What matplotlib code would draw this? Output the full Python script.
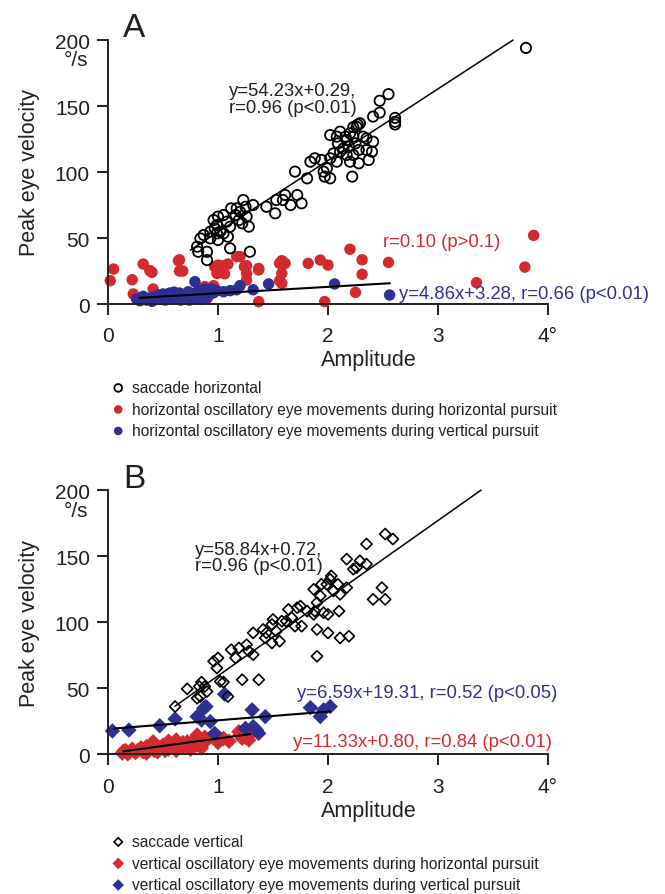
import matplotlib
matplotlib.use("Agg")
import matplotlib.pyplot as plt

plt.rcParams['font.family'] = ['Liberation Sans', 'DejaVu Sans']

RED = '#d42a2f'
BLUE = '#2e3192'

# ---------------- panel A data ----------------
sacc_h_x = [0.81, 0.82, 0.90, 0.90, 0.84, 0.87, 0.93, 0.97, 0.96, 1.00, 1.05, 1.08, 1.11, 1.09,
            1.12, 1.17, 1.16, 1.20, 1.23, 1.25, 1.26, 1.28, 1.29, 1.32, 1.11, 1.00, 1.02, 1.05,
            1.19, 1.22, 0.99, 0.93, 0.99,
            1.44, 1.52, 1.53, 1.59, 1.66, 1.61, 1.72, 1.76, 1.70, 1.81, 1.84, 1.88, 1.94, 1.96,
            1.97, 1.99, 2.02, 2.02, 2.05, 2.08, 2.09, 2.11, 2.14, 2.16, 2.17, 2.19, 2.20, 2.22,
            2.23, 2.25, 2.26, 2.29, 2.28, 2.28, 2.32, 2.35, 2.37, 2.40, 2.41, 2.35, 2.08, 2.02,
            2.17, 2.23, 2.11, 2.20,
            2.55, 2.47, 2.41, 2.47, 2.61, 2.61, 2.61, 3.80, 2.27, 2.23]
sacc_h_y = [43.4, 39.6, 39.6, 33.3, 49.7, 52.3, 54.8, 57.3, 63.6, 66.2, 67.4, 62.4, 58.6, 51.0,
            72.5, 72.5, 67.4, 69.9, 78.8, 73.7, 66.2, 58.6, 39.6, 75.0, 42.2, 48.5, 54.8, 53.5,
            63.6, 61.1, 59.8, 49.7, 53.5,
            73.7, 68.7, 78.8, 78.8, 75.0, 82.6, 82.6, 76.3, 100.3, 95.2, 107.8, 110.4, 109.1, 100.3,
            96.5, 102.8, 110.4, 128.0, 114.1, 126.8, 121.7, 115.4, 117.9, 126.8, 124.2, 119.2, 107.8, 96.5,
            126.8, 121.7, 134.3, 136.9, 116.7, 106.6, 126.8, 116.7, 109.1, 115.4, 123.0, 125.5, 107.8, 95.2,
            112.9, 112.9, 130.6, 129.3,
            159.0, 154.0, 142.0, 145.0, 141.0, 138.0, 136.0, 194.0, 136.0, 134.0]

osc_hh_x = [0.02, 0.05, 0.22, 0.23, 0.32, 0.40, 0.41, 0.65, 0.65, 0.68, 0.88, 0.90, 0.97, 1.00,
            0.99, 1.17, 1.20, 1.24, 1.26, 1.26, 1.37, 1.37, 1.56, 1.58, 1.58, 1.61, 1.82, 1.93,
            2.00, 1.97, 2.20, 2.31, 2.31, 2.25, 2.55, 3.35, 3.79, 3.87,
            1.03, 1.09, 1.06, 1.26, 1.37, 1.58, 1.56, 0.96, 0.38, 0.64]
osc_hh_y = [17.7, 26.5, 18.4, 7.6, 30.3, 24.0, 11.4, 33.5, 25.0, 25.0, 13.1, 4.3, 28.3, 29.5,
            23.2, 35.9, 35.9, 28.3, 23.2, 18.2, 25.8, 1.8, 30.8, 23.2, 15.7, 30.8, 30.8, 33.3,
            29.5, 1.8, 41.5, 33.5, 22.5, 8.8, 31.5, 16.2, 28.0, 52.0,
            29.0, 30.3, 22.9, 29.0, 27.0, 32.8, 17.7, 13.9, 25.3, 32.8]

osc_hv_x = [0.26, 0.29, 0.32, 0.37, 0.41, 0.46, 0.50, 0.53, 0.56, 0.61, 0.65, 0.68, 0.73, 0.78,
            0.79, 0.82, 0.85, 0.88, 0.90, 0.94, 0.99, 1.05, 1.11, 1.17, 1.20, 1.32, 1.46,
            0.30, 0.35, 0.40, 0.44, 0.48, 0.52, 0.55, 0.58, 0.62, 0.66, 0.70, 0.74, 0.76, 0.80,
            0.84, 0.87, 0.92, 0.96, 0.70, 0.60, 2.06, 2.56]
osc_hv_y = [3.8, 2.5, 5.8, 4.3, 5.1, 6.8, 7.6, 5.8, 8.3, 6.8, 8.3, 5.8, 9.3, 7.6,
            16.9, 10.1, 6.8, 11.4, 5.1, 11.4, 10.1, 9.3, 10.1, 10.8, 13.9, 10.8, 15.2,
            4.5, 3.0, 2.0, 3.5, 4.0, 3.0, 4.5, 3.5, 4.0, 3.0, 4.5, 3.0, 5.0, 4.0,
            3.5, 8.0, 7.0, 8.5, 7.0, 9.0, 15.2, 6.8]

# ---------------- panel B data ----------------
sacc_v_x = [0.61, 0.72, 0.81, 0.83, 0.85, 0.90, 0.88, 0.84, 0.96, 1.00, 0.99, 1.02, 1.05, 1.09,
            1.12, 1.16, 1.19, 1.22, 1.26, 1.28, 1.32, 1.32, 1.37, 1.41, 1.43, 1.44, 1.49, 1.49,
            1.50, 1.53, 1.56, 1.58, 1.62, 1.64, 1.67, 1.70, 1.72, 1.75, 1.76, 1.81, 1.87, 1.87,
            1.88, 1.90, 1.90, 1.90, 1.93, 1.96, 1.99, 2.00, 2.00, 2.02, 2.03, 2.05, 2.09, 2.10,
            2.11, 2.11, 2.17, 2.19, 2.23, 2.26, 2.29, 2.35, 2.35, 2.41, 2.49, 2.52, 2.52, 2.59,
            1.94, 2.17]
sacc_v_y = [36.3, 49.7, 42.6, 51.5, 54.8, 47.7, 51.5, 43.9, 70.6, 73.1, 65.5, 55.3, 54.8, 43.9,
            79.4, 73.1, 80.7, 56.6, 83.2, 78.2, 92.1, 75.6, 56.6, 94.7, 88.3, 92.1, 98.5, 84.5,
            102.3, 93.4, 85.8, 101.0, 101.0, 109.9, 103.6, 97.2, 111.2, 112.4, 97.2, 108.6, 125.1, 106.1,
            108.6, 94.7, 115.0, 74.4, 120.1, 107.4, 128.9, 106.1, 92.1, 132.7, 135.3, 123.9, 128.9, 108.6,
            88.3, 121.3, 148.0, 89.6, 140.4, 141.6, 146.7, 144.2, 159.4, 117.5, 126.4, 117.5, 167.0, 163.2,
            128.9, 126.4]

osc_vh_x = [0.13, 0.16, 0.18, 0.20, 0.22, 0.25, 0.27, 0.30, 0.32, 0.35, 0.37, 0.40, 0.42, 0.45,
            0.47, 0.50, 0.52, 0.55, 0.57, 0.60, 0.62, 0.65, 0.68, 0.70, 0.72, 0.75, 0.77, 0.80,
            0.82, 0.85, 0.88, 0.90, 1.00, 1.05, 1.10, 1.20, 1.25, 1.28, 1.30, 0.55, 0.35, 0.62,
            1.05, 1.19, 1.22, 1.26, 0.81, 0.72, 0.84, 0.41, 0.14]
osc_vh_y = [1.0, 3.0, 0.5, 2.0, 4.0, 1.5, 3.0, 5.0, 2.0, 1.0, 4.0, 6.0, 3.0, 2.0,
            5.0, 7.0, 3.0, 4.0, 8.0, 6.0, 3.0, 7.0, 9.0, 5.0, 8.0, 4.0, 10.0, 7.0,
            12.0, 5.0, 13.0, 11.0, 9.0, 12.0, 10.0, 15.0, 13.0, 11.0, 16.0, 10.0, 6.0, 11.0,
            12.2, 17.3, 12.2, 14.7, 14.7, 9.6, 7.1, 9.6, 2.5]

osc_vv_x = [0.04, 0.19, 0.47, 0.61, 0.81, 0.87, 0.89, 0.85, 0.93, 0.97, 1.06, 1.25, 1.31, 1.32,
            1.37, 1.43, 1.84, 1.93, 1.96, 2.02, 1.35]
osc_vv_y = [17.8, 18.5, 21.8, 26.9, 28.7, 35.0, 36.3, 26.1, 24.9, 16.0, 45.7, 19.8, 33.8, 21.1,
            16.0, 28.7, 35.5, 28.7, 33.8, 36.3, 18.5]

# regression lines: (slope, intercept, x start, x end)
fit_sacc_h = (54.23, 0.29, 0.75, 3.68)
fit_hv = (4.86, 3.28, 0.29, 2.56)
fit_sacc_v = (58.84, 0.72, 0.61, 3.39)
fit_vv = (6.59, 19.31, 0.06, 2.02)
fit_vh = (11.33, 0.80, 0.14, 1.29)

xticks = [0, 1, 2, 3, 4]
xticklabels = ['0', '1', '2', '3', '4°']
yticks = [0, 50, 100, 150, 200]

fig = plt.figure(figsize=(6.65, 8.95), dpi=100)
axA = fig.add_axes([0.1376, 0.6474, 0.8353, 0.31415])
axB = fig.add_axes([0.1376, 0.1441, 0.8353, 0.31415])


def style_axes(ax):
    ax.set_xlim(-0.15, 4.9)
    ax.set_ylim(-8, 205)
    for s in ['top', 'right']:
        ax.spines[s].set_visible(False)
    ax.spines['left'].set_bounds(0, 200)
    ax.spines['bottom'].set_bounds(0, 4)
    ax.spines['left'].set_position(('data', 0))
    ax.spines['bottom'].set_position(('data', 0))
    for s in ['left', 'bottom']:
        ax.spines[s].set_linewidth(1.4)
        ax.spines[s].set_color('#231f20')
    ax.set_xticks(xticks)
    ax.set_xticklabels(xticklabels)
    ax.set_yticks(yticks)
    ax.tick_params(direction='out', length=8, width=1.4, labelsize=15, pad=5,
                   color='#231f20', labelcolor='#231f20')
    ax.tick_params(axis='x', pad=8)
    ax.set_xlabel('Amplitude', fontsize=15.5, color='#231f20', labelpad=3)
    ax.set_ylabel('Peak eye velocity', fontsize=15.5, color='#231f20')
    ax.yaxis.set_label_coords(-0.093, 100, transform=ax.get_yaxis_transform())
    ax.annotate('°/s', xy=(0, 185), xycoords='data', xytext=(-14, 0),
                textcoords='offset points', ha='right', va='center',
                fontsize=15, color='#231f20')


def fit_line(ax, fit, lw=1.2):
    m, b, x0, x1 = fit
    ax.plot([x0, x1], [m * x0 + b, m * x1 + b], color='black', lw=lw, zorder=4)


# ---- A ----
style_axes(axA)
hA1 = axA.scatter(sacc_h_x, sacc_h_y, s=55, facecolors='none', edgecolors='black',
                  linewidths=1.3, zorder=3, label='saccade horizontal')
hA2 = axA.scatter(osc_hh_x, osc_hh_y, s=68, color=RED, edgecolors='none', zorder=2,
                  label='horizontal oscillatory eye movements during horizontal pursuit')
hA3 = axA.scatter(osc_hv_x, osc_hv_y, s=68, color=BLUE, edgecolors='none', zorder=2.5,
                  label='horizontal oscillatory eye movements during vertical pursuit')
fit_line(axA, fit_sacc_h, lw=1.1)
fit_line(axA, fit_hv, lw=1.5)
axA.text(1.10, 168, 'y=54.23x+0.29,\nr=0.96 (p<0.01)', fontsize=13.3, color='#231f20',
         ha='left', va='top', linespacing=0.95)
axA.text(2.50, 47, 'r=0.10 (p>0.1)', fontsize=13.3, color=RED, ha='left', va='center')
axA.text(2.65, 7.6, 'y=4.86x+3.28, r=0.66 (p<0.01)', fontsize=13.3, color=BLUE,
         ha='left', va='center')
fig.text(123 / 665, 1 - 37 / 895, 'A', fontsize=24, color='#231f20', va='baseline')
axA.legend(handles=[hA1, hA2, hA3], loc='upper left', bbox_to_anchor=(112 / 665, 1 - 381 / 895),
           bbox_transform=fig.transFigure, frameon=False, fontsize=11.2, scatterpoints=1,
           handlelength=0.8, handletextpad=0.5, labelspacing=0.42, borderpad=0,
           borderaxespad=0, markerscale=0.75, labelcolor='#231f20')

# ---- B ----
style_axes(axB)
hB1 = axB.scatter(sacc_v_x, sacc_v_y, s=32, marker='D', facecolors='none', edgecolors='black',
                  linewidths=1.2, zorder=3, label='saccade vertical')
hB2 = axB.scatter(osc_vh_x, osc_vh_y, s=62, marker='D', color=RED, edgecolors='none', zorder=2,
                  label='vertical oscillatory eye movements during horizontal pursuit')
hB3 = axB.scatter(osc_vv_x, osc_vv_y, s=62, marker='D', color=BLUE, edgecolors='none', zorder=2,
                  label='vertical oscillatory eye movements during vertical pursuit')
fit_line(axB, fit_sacc_v, lw=1.1)
fit_line(axB, fit_vv, lw=1.5)
fit_line(axB, fit_vh, lw=1.5)
axB.text(0.79, 161.7, 'y=58.84x+0.72,\nr=0.96 (p<0.01)', fontsize=13.3, color='#231f20',
         ha='left', va='top', linespacing=0.95)
axB.text(1.72, 47.3, 'y=6.59x+19.31, r=0.52 (p<0.05)', fontsize=13.3, color=BLUE,
         ha='left', va='center')
axB.text(1.68, 10.2, 'y=11.33x+0.80, r=0.84 (p<0.01)', fontsize=13.3, color=RED,
         ha='left', va='center')
fig.text(123 / 665, 1 - 488 / 895, 'B', fontsize=24, color='#231f20', va='baseline')
axB.legend(handles=[hB1, hB2, hB3], loc='upper left', bbox_to_anchor=(112 / 665, 1 - 835 / 895),
           bbox_transform=fig.transFigure, frameon=False, fontsize=11.2, scatterpoints=1,
           handlelength=0.8, handletextpad=0.5, labelspacing=0.42, borderpad=0,
           borderaxespad=0, markerscale=0.75, labelcolor='#231f20')

fig.savefig('out.png', dpi=100)
